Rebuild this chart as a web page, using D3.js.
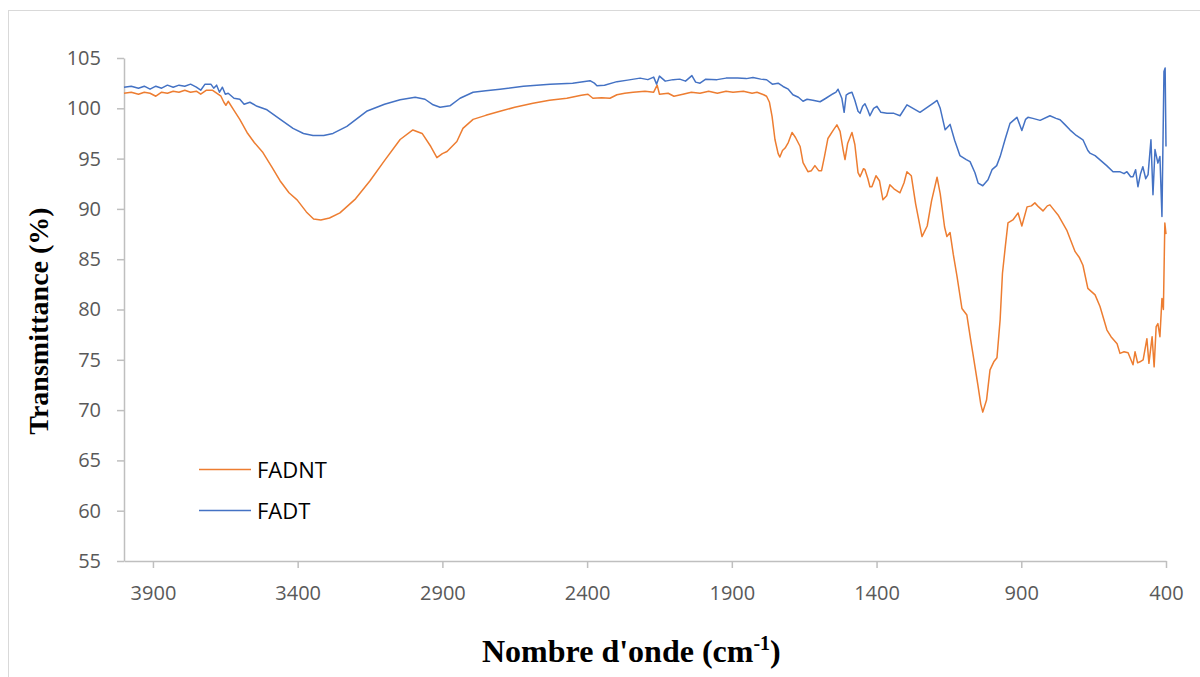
<!DOCTYPE html>
<html>
<head>
<meta charset="utf-8">
<script src="https://cdn.jsdelivr.net/npm/d3@7"></script>
<style>
  body { margin: 0; background: #fff; }
  .tick text { fill: #595959; font-family: "Open Sans", sans-serif; font-size: 20px; }
  .axis path, .axis line { stroke: #bfbfbf; stroke-width: 1.5; }
</style>
</head>
<body>
<div id="chart"></div>
<script>
// FADNT (orange) - wavenumber (cm-1) and transmittance (%)
var fadntWave = [4000,3975,3950,3930,3910,3890,3870,3850,3830,3810,3790,3770,3750,3735,3715,3695,3680,3665,3655,3648,3640,3620,3600,3575,3550,3520,3490,3461,3430,3402,3370,3345,3320,3290,3254,3200,3150,3100,3046,3002,2970,2940,2919,2900,2884,2850,2829,2794,2750,2701,2650,2587,2530,2470,2420,2397,2380,2350,2321,2297,2270,2241,2200,2170,2158,2150,2120,2100,2069,2040,2010,1980,1950,1920,1896,1860,1830,1813,1790,1780,1770,1761,1751,1740,1734,1725,1716,1705,1692,1680,1664,1654,1637,1625,1613,1600,1590,1580,1568,1550,1537,1526,1515,1509,1500,1485,1475,1464,1457,1445,1440,1430,1423,1416,1402,1390,1378,1365,1354,1340,1319,1305,1295,1280,1265,1243,1225,1210,1191,1180,1165,1157,1146,1135,1122,1105,1088,1075,1067,1050,1040,1033,1020,1008,995,984,973,965,955,946,929,911,898,880,865,853,840,825,810,801,790,773,743,714,700,687,670,645,628,604,590,569,559,545,531,514,507,498,490,479,466,459,448,441,434,428,421,414,409,404,400];
var fadntT = [101.5,101.6,101.4,101.6,101.5,101.2,101.6,101.5,101.7,101.6,101.8,101.6,101.7,101.4,101.8,101.8,101.5,101.2,100.6,100.3,100.7,99.8,98.9,97.6,96.6,95.6,94.2,92.8,91.6,90.9,89.7,89.0,88.9,89.1,89.6,91.0,92.8,94.8,96.9,97.85,97.5,96.2,95.1,95.5,95.7,96.7,98.0,98.9,99.3,99.7,100.1,100.5,100.8,101.0,101.3,101.4,101.0,101.05,101.0,101.35,101.5,101.6,101.7,101.6,102.3,101.4,101.5,101.2,101.4,101.6,101.5,101.7,101.5,101.7,101.6,101.7,101.5,101.6,101.35,101.2,100.6,99.2,96.9,95.5,95.15,95.8,96.05,96.6,97.6,97.1,96.2,94.6,93.7,93.8,94.3,93.8,93.8,95.2,97.0,97.8,98.35,97.7,95.8,94.9,96.5,97.6,96.4,93.6,93.2,94.0,93.9,93.0,92.2,92.2,93.3,92.8,90.9,91.3,92.4,92.0,91.6,92.6,93.7,93.3,90.5,87.25,88.3,90.8,93.15,91.5,88.2,87.25,87.65,85.5,83.3,80.1,79.45,77.0,75.6,72.5,70.6,69.8,71.0,74.0,74.8,75.2,79.0,83.6,86.3,88.6,88.9,89.6,88.3,90.2,90.3,90.6,90.2,89.8,90.3,90.4,90.0,89.4,87.9,85.75,85.2,84.4,82.1,81.45,80.3,77.96,77.3,76.6,75.64,75.8,75.7,74.5,75.8,74.7,74.8,75.0,77.1,74.65,77.3,74.3,78.3,78.6,77.3,81.1,80.0,88.6,87.5];

// FADT (blue)
var fadtWave = [4000,3975,3950,3930,3910,3890,3870,3850,3830,3810,3790,3770,3750,3735,3720,3700,3690,3680,3670,3660,3650,3640,3620,3600,3585,3565,3540,3506,3460,3416,3380,3347,3310,3278,3230,3162,3100,3046,2994,2960,2932,2908,2874,2839,2794,2750,2701,2620,2528,2450,2390,2375,2366,2340,2297,2260,2217,2190,2170,2160,2150,2130,2103,2080,2060,2038,2025,2010,1990,1951,1920,1880,1850,1827,1800,1780,1760,1740,1723,1705,1689,1670,1654,1640,1620,1595,1575,1550,1540,1533,1520,1512,1505,1495,1485,1475,1464,1457,1448,1440,1430,1423,1410,1399,1385,1364,1340,1319,1295,1280,1250,1220,1200,1191,1180,1163,1146,1130,1112,1090,1077,1060,1049,1033,1015,1001,985,973,955,939,915,898,885,877,860,835,801,780,766,750,732,710,687,670,663,645,628,605,583,560,545,535,522,514,505,497,488,480,470,462,452,445,438,428,421,414,407,403,400];
var fadtT = [102.1,102.2,102.0,102.2,101.9,102.2,102.0,102.3,102.1,102.3,102.2,102.4,102.1,101.8,102.4,102.4,102.0,102.3,101.6,102.1,101.4,101.5,101.0,100.9,100.4,100.6,100.2,99.85,98.9,98.0,97.5,97.3,97.3,97.5,98.2,99.7,100.4,100.85,101.1,100.9,100.35,100.1,100.25,101.0,101.6,101.75,101.9,102.2,102.4,102.5,102.75,102.5,102.25,102.3,102.65,102.8,103.0,102.85,103.1,102.4,103.2,102.7,102.85,102.9,102.7,103.25,102.6,102.5,102.9,102.85,103.0,103.0,102.95,103.07,102.9,102.84,102.4,102.5,102.17,101.9,101.35,101.1,100.7,100.9,100.8,100.65,101.0,101.45,101.6,101.9,101.0,99.6,101.3,101.5,101.6,100.8,99.7,99.5,100.2,100.45,99.8,99.26,100.0,100.2,99.6,99.5,99.5,99.26,100.35,100.1,99.6,100.2,100.6,100.78,100.0,97.86,98.4,96.8,95.3,94.9,94.7,93.6,92.56,92.3,92.9,93.9,94.3,95.2,97.0,98.5,99.1,97.8,98.9,99.1,99.0,98.8,99.26,99.0,98.86,98.4,97.86,97.3,96.87,95.8,95.55,95.3,94.88,94.3,93.7,93.7,93.5,93.7,93.2,93.2,93.9,92.2,93.5,94.2,93.0,93.4,96.87,91.4,95.9,94.55,95.2,89.24,103.67,104.0,96.2];

var xTicks = [3900,3400,2900,2400,1900,1400,900,400];
var yTicks = [55,60,65,70,75,80,85,90,95,100,105];
var seriesNames = ["FADNT","FADT"];
var seriesColors = ["#ED7D31","#4472C4"];

var width = 1200, height = 677;

var svg = d3.select("#chart").append("svg")
  .attr("width", width)
  .attr("height", height);

svg.append("rect")
  .attr("width", width).attr("height", height)
  .attr("fill", "#fff");

// outer chart border (only top & left visible in the original)
svg.append("rect")
  .attr("x", 8.5).attr("y", 10.5)
  .attr("width", 1220).attr("height", 700)
  .attr("fill", "none")
  .attr("stroke", "#d9d9d9")
  .attr("stroke-width", 1);

var x = d3.scaleLinear().domain([4000, 400]).range([124, 1166]);
var y = d3.scaleLinear().domain([55, 105]).range([561, 58]);

var xAxis = svg.append("g")
  .attr("class", "axis")
  .attr("transform", "translate(0," + y(55) + ")")
  .call(d3.axisBottom(x).tickValues(xTicks).tickFormat(d3.format("d"))
    .tickSize(7).tickPadding(18).tickSizeOuter(0));

var yAxis = svg.append("g")
  .attr("class", "axis")
  .attr("transform", "translate(" + x(4000) + ",0)")
  .call(d3.axisLeft(y).tickValues(yTicks).tickFormat(d3.format("d"))
    .tickSize(7).tickPadding(16).tickSizeOuter(0));

var line = d3.line()
  .x(function(d) { return x(d[0]); })
  .y(function(d) { return y(d[1]); });

var allSeries = [
  d3.zip(fadntWave, fadntT),
  d3.zip(fadtWave, fadtT)
];

svg.selectAll("path.series")
  .data(allSeries)
  .enter()
  .append("path")
  .attr("class", "series")
  .attr("d", line)
  .attr("fill", "none")
  .attr("stroke", function(d, i) { return seriesColors[i]; })
  .attr("stroke-width", 1.5)
  .attr("stroke-linejoin", "round");

// legend
var legend = svg.selectAll("g.legend")
  .data(seriesNames)
  .enter()
  .append("g")
  .attr("class", "legend")
  .attr("transform", function(d, i) { return "translate(199," + (469.5 + i * 41) + ")"; });

legend.append("line")
  .attr("x1", 0).attr("x2", 52)
  .attr("stroke", function(d, i) { return seriesColors[i]; })
  .attr("stroke-width", 1.5);

legend.append("text")
  .attr("x", 58).attr("y", 8.5)
  .style("font-family", "'Open Sans', sans-serif")
  .style("font-size", "22px")
  .style("fill", "#000")
  .text(function(d) { return d; });

// axis titles
svg.append("text")
  .attr("transform", "translate(47.5,321) rotate(-90)")
  .attr("text-anchor", "middle")
  .style("font-family", "'Liberation Serif', 'Times New Roman', serif")
  .style("font-weight", "bold")
  .style("font-size", "28px")
  .style("fill", "#000")
  .text("Transmittance (%)");

var xTitle = svg.append("text")
  .attr("x", 482).attr("y", 662)
  .style("font-family", "'Liberation Serif', 'Times New Roman', serif")
  .style("font-weight", "bold")
  .style("font-size", "32px")
  .style("fill", "#000");
xTitle.append("tspan").text("Nombre d'onde (cm");
xTitle.append("tspan").attr("dy", -12).style("font-size", "20px").text("-1");
xTitle.append("tspan").attr("dy", 12).text(")");
</script>
</body>
</html>
